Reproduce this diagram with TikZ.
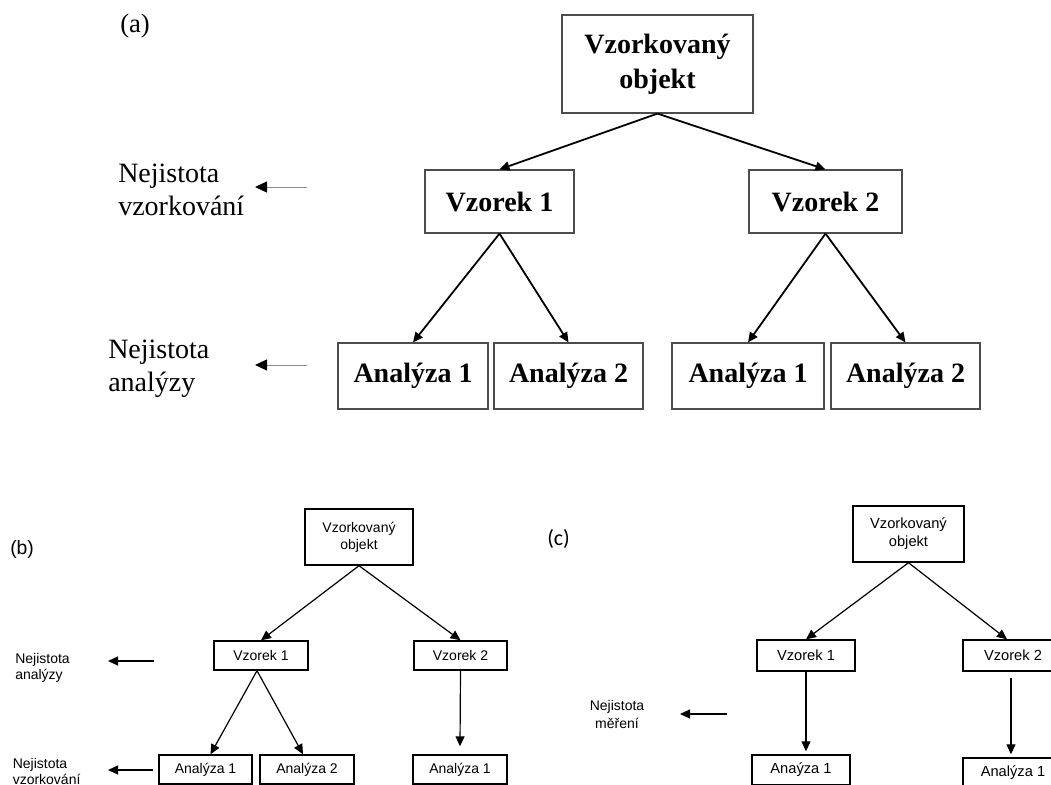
\documentclass[tikz,border=0pt]{standalone}
\usepackage{fontspec}
\setmainfont{Liberation Serif}
\setsansfont{Liberation Sans}
\newfontfamily\calfont{Carlito}
\usetikzlibrary{arrows.meta}
\newdimen\px \px=0.75pt
\begin{document}
\begin{tikzpicture}[x=0.75pt,y=-0.75pt,
  box/.style 2 args={draw, rectangle, inner sep=0pt, minimum width=#1\px, minimum height=#2\px, align=center},
  boxa/.style={draw=black!70, line width=0.9pt, font=\fontsize{21}{26}\selectfont\bfseries},
  boxb/.style={draw=black, line width=1.05pt, font=\sffamily\fontsize{10.5}{12.75}\selectfont},
  boxc/.style={draw=black, line width=1.05pt, font=\sffamily\fontsize{11}{13.5}\selectfont},
  arra/.style={line width=1.35pt, -{Triangle[length=7.5pt, width=6.75pt]}},
  arrb/.style={line width=0.9pt, -{Triangle[length=7.5pt, width=6.75pt]}},
  side/.style={draw=black!45, line width=0.75pt, -{Triangle[length=9pt, width=8.25pt, color=black, fill=black]}},
  labela/.style={align=left, inner sep=0pt, anchor=base west, font=\fontsize{21}{24.75}\selectfont},
  labelb/.style={align=left, inner sep=0pt, anchor=base west, font=\sffamily\fontsize{10.5}{12}\selectfont},
  labelc/.style={align=center, inner sep=0pt, anchor=base, font=\sffamily\fontsize{10.5}{13.5}\selectfont},
]
\clip (0,0) rectangle (1051,785);
\fill[white] (0,0) rectangle (1051,785);

% ---------- (a) ----------
\node[inner sep=0pt, anchor=base west, font=\fontsize{20}{24}\selectfont] (tagA) at (120,32) {(a)};
\node[box={191}{98}, boxa] (objA) at (657.5,64) {Vzorkovaný\\objekt};
\node[box={149}{63}, boxa] (v1A) at (499.5,201.5) {Vzorek 1};
\node[box={153}{63}, boxa] (v2A) at (825.5,201.5) {Vzorek 2};
\node[box={150}{66}, boxa] (a1A) at (413,376) {Analýza 1};
\node[box={149}{66}, boxa] (a2A) at (568.5,376) {Analýza 2};
\node[box={152}{66}, boxa] (a3A) at (748,376) {Analýza 1};
\node[box={149}{66}, boxa] (a4A) at (905.5,376) {Analýza 2};
\draw[arra] (objA.south) -- (v1A.north);
\draw[arra] (objA.south) -- (v2A.north);
\draw[arra] (v1A.south) -- (a1A.north);
\draw[arra] (v1A.south) -- (a2A.north);
\draw[arra] (v2A.south) -- (a3A.north);
\draw[arra] (v2A.south) -- (a4A.north);

% labels: the base anchor sits on the last line
\node[labela] (uvA) at (118,215) {Nejistota\\vzorkování};
\node[labela] (uaA) at (108,391) {Nejistota\\analýzy};
\coordinate (uvAs) at (307,187);
\coordinate (uvAe) at (255,187);
\coordinate (uaAs) at (307,365);
\coordinate (uaAe) at (255,365);
\draw[side] (uvAs) -- (uvAe);
\draw[side] (uaAs) -- (uaAe);

% ---------- (b) ----------
\node[inner sep=0pt, anchor=base west, font=\sffamily\fontsize{14.5}{16}\selectfont] (tagB) at (10,554) {(b)};
\node[box={108}{56}, boxb] (objB) at (359,537) {Vzorkovaný\\objekt};
\node[box={94}{29}, boxb] (v1B) at (261,655.5) {Vzorek 1};
\node[box={93}{29}, boxb] (v2B) at (460.5,655.5) {Vzorek 2};
\node[box={93}{29}, boxb] (a1B) at (205.5,769.5) {Analýza 1};
\node[box={94}{29}, boxb] (a2B) at (307,769.5) {Analýza 2};
\node[box={94}{29}, boxb] (a3B) at (460,769.5) {Analýza 1};
\draw[arrb] (objB.south) -- (v1B.north);
\draw[arrb] (objB.south) -- (v2B.north);
\draw[arrb] ([xshift=-4\px]v1B.south) -- ([xshift=5\px]a1B.north);
\draw[arrb] ([xshift=-4\px]v1B.south) -- ([xshift=-4\px]a2B.north);
\draw[arrb] (v2B.south) -- ([yshift=8\px]a3B.north);

\node[labelb] (uaB) at (15,679) {Nejistota\\analýzy};
\node[labelb] (uvB) at (12.5,784) {Nejistota\\vzorkování};
\coordinate (uaBs) at (154,661);
\coordinate (uaBe) at (108,661);
\coordinate (uvBs) at (153,770);
\coordinate (uvBe) at (108,770);
\draw[arrb] (uaBs) -- (uaBe);
\draw[arrb] (uvBs) -- (uvBe);

% ---------- (c) ----------
\node[inner sep=0pt, anchor=base west, font=\calfont\fontsize{16.5}{18}\selectfont] (tagC) at (547,545) {(c)};
\node[box={111}{56}, boxc] (objC) at (908.5,534) {Vzorkovaný\\objekt};
\node[box={98}{31}, boxc] (v1C) at (806,655.5) {Vzorek 1};
\node[box={100}{31}, boxc] (v2C) at (1013,655.5) {Vzorek 2};
\node[box={98}{30}, boxc] (a1C) at (801,770) {Anaýza 1};
\node[box={100}{30}, boxc] (a2C) at (1013,773) {Analýza 1};
\draw[arrb] (objC.south) -- (v1C.north);
\draw[arrb] (objC.south) -- ([xshift=-6\px]v2C.north);
\draw[arrb] (v1C.south) -- ([yshift=3\px]v1C.south |- a1C.north);
\draw[arrb] ([xshift=-2\px,yshift=-6\px]v2C.south) -- ([xshift=-2\px,yshift=3\px]v2C.south |- a2C.north);

\node[labelc] (umC) at (617,728) {Nejistota\\měření};
\coordinate (umCs) at (727,714);
\coordinate (umCe) at (680,714);
\draw[arrb] (umCs) -- (umCe);
\end{tikzpicture}
\end{document}
